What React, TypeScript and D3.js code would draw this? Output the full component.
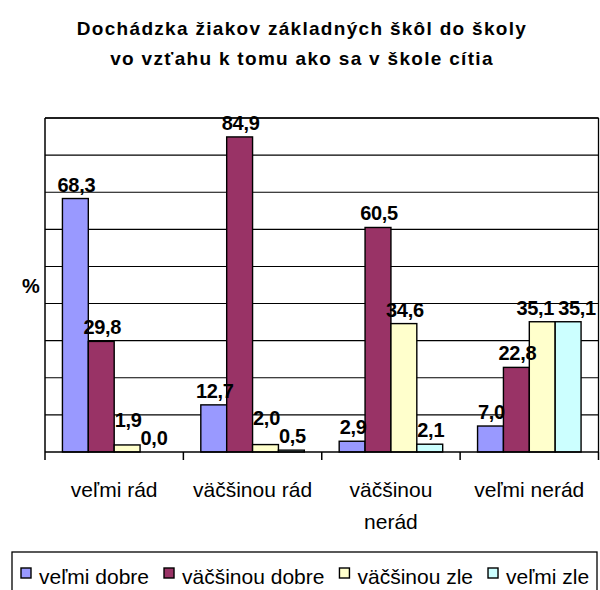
import React, { useEffect, useRef } from "react";
import * as d3 from "d3";

const categories = ["veľmi rád", "väčšinou rád", "väčšinou\nnerád", "veľmi nerád"];
const seriesNames = ["veľmi dobre", "väčšinou dobre", "väčšinou zle", "veľmi zle"];
const velmiDobre = [68.3, 12.7, 2.9, 7.0];
const vacsinouDobre = [29.8, 84.9, 60.5, 22.8];
const vacsinouZle = [1.9, 2.0, 34.6, 35.1];
const velmiZle = [0.0, 0.5, 2.1, 35.1];
const yTicks = [0, 10, 20, 30, 40, 50, 60, 70, 80, 90];
const colors = ["#9999FF", "#993366", "#FFFFCC", "#CCFFFF"];
const titleLines = [
  "Dochádzka žiakov základných škôl do školy",
  "vo vzťahu k tomu ako sa v škole cítia",
];

export default function App() {
  const ref = useRef<SVGSVGElement | null>(null);

  useEffect(() => {
    const width = 600;
    const height = 590;
    const font = "'Liberation Sans', Arial, sans-serif";
    const margin = { top: 118, left: 45, right: 1.5, bottom: 138 };
    const iwidth = width - margin.left - margin.right;
    const iheight = height - margin.top - margin.bottom;
    const series = [velmiDobre, vacsinouDobre, vacsinouZle, velmiZle];

    const svg = d3.select(ref.current);
    svg.selectAll("*").remove();
    svg.append("rect").attr("width", width).attr("height", height).attr("fill", "#fff");

    // title
    svg.append("g")
      .selectAll("text")
      .data(titleLines)
      .enter().append("text")
      .attr("x", 302)
      .attr("y", (d, i) => 35 + i * 30)
      .attr("text-anchor", "middle")
      .style("font-family", font)
      .style("font-size", "19px")
      .style("font-weight", "bold")
      .style("letter-spacing", "1.3px")
      .text(d => d);

    const g = svg.append("g").attr("transform", `translate(${margin.left},${margin.top})`);

    const y = d3.scaleLinear().domain([0, 90]).range([iheight, 0]);
    const x = d3.scaleBand().domain(categories).range([0, iwidth]).padding(0);
    const pad = x.bandwidth() * 0.126;
    const xs = d3.scaleBand<number>()
      .domain(d3.range(series.length))
      .range([pad, x.bandwidth() - pad])
      .padding(0);

    // gridlines
    g.append("g")
      .selectAll("line")
      .data(yTicks.slice(1))
      .enter().append("line")
      .attr("x1", 0).attr("x2", iwidth)
      .attr("y1", d => y(d)).attr("y2", d => y(d))
      .attr("stroke", "#000")
      .attr("stroke-width", 1.1);

    // right border
    g.append("line")
      .attr("x1", iwidth).attr("x2", iwidth)
      .attr("y1", 0).attr("y2", iheight)
      .attr("stroke", "#000").attr("stroke-width", 1.3);

    // bars
    const groups = g.selectAll("g.cat")
      .data(categories)
      .enter().append("g")
      .attr("class", "cat")
      .attr("transform", d => `translate(${x(d)},0)`);

    groups.each(function (cat, ci) {
      const grp = d3.select(this);
      series.forEach((s, si) => {
        const v = s[ci];
        grp.append("rect")
          .attr("x", xs(si) as number)
          .attr("y", y(v))
          .attr("width", xs.bandwidth())
          .attr("height", iheight - y(v))
          .attr("fill", colors[si])
          .attr("stroke", "#000")
          .attr("stroke-width", 1.4);
      });
      const labels = series.map((s, si) => {
        const v = s[ci];
        const lx = (xs(si) as number) + xs.bandwidth() / 2 + 1;
        const ly = y(v) - 7;
        const t = grp.append("text")
          .attr("x", lx)
          .attr("y", ly)
          .attr("text-anchor", "middle")
          .style("font-family", font)
          .style("font-size", "20px")
          .style("font-weight", "bold")
          .style("letter-spacing", "-0.3px")
          .text(d3.format(".1f")(v).replace(".", ","));
        const w = (t.node() as SVGTextElement).getComputedTextLength();
        return { t, x: lx, y: ly, w };
      });
      // keep neighbouring labels from overlapping
      for (let i = 0; i < labels.length - 1; i++) {
        const a = labels[i];
        const b = labels[i + 1];
        const overlapX = a.x + a.w / 2 + 4 - (b.x - b.w / 2);
        const dy = Math.abs(a.y - b.y);
        if (overlapX > 0 && dy < 15) {
          if (dy < 3) {
            a.x -= overlapX / 2;
            b.x += overlapX / 2;
          } else if (a.y < b.y) {
            a.y = b.y - 18;
          } else {
            b.y = a.y - 18;
          }
        }
      }
      labels.forEach(l => l.t.attr("x", l.x).attr("y", l.y));
    });

    // axes
    g.append("line")
      .attr("x1", 0).attr("x2", 0)
      .attr("y1", 0).attr("y2", iheight)
      .attr("stroke", "#000").attr("stroke-width", 1.5);
    g.append("line")
      .attr("x1", 0).attr("x2", iwidth)
      .attr("y1", 0).attr("y2", 0)
      .attr("stroke", "#000").attr("stroke-width", 1.3);
    g.append("line")
      .attr("x1", 0).attr("x2", iwidth)
      .attr("y1", iheight).attr("y2", iheight)
      .attr("stroke", "#000").attr("stroke-width", 1.5);

    const boundaries = categories.map(c => x(c) as number).concat([iwidth]);
    g.append("g")
      .selectAll("line")
      .data(boundaries)
      .enter().append("line")
      .attr("x1", d => d).attr("x2", d => d)
      .attr("y1", iheight).attr("y2", iheight + 8)
      .attr("stroke", "#000").attr("stroke-width", 1.5);

    // category labels
    const catLabels = g.append("g")
      .selectAll("text")
      .data(categories)
      .enter().append("text")
      .attr("x", d => (x(d) as number) + x.bandwidth() / 2)
      .attr("y", iheight + 45)
      .attr("text-anchor", "middle")
      .style("font-family", font)
      .style("font-size", "21px");
    catLabels.each(function (d) {
      const t = d3.select(this);
      d.split("\n").forEach((line, i) => {
        t.append("tspan")
          .attr("x", (x(d) as number) + x.bandwidth() / 2)
          .attr("dy", i === 0 ? 0 : 32)
          .text(line);
      });
    });

    // y title
    svg.append("text")
      .attr("x", 31)
      .attr("y", 293)
      .attr("text-anchor", "middle")
      .style("font-family", font)
      .style("font-size", "20px")
      .style("font-weight", "bold")
      .text("%");

    // legend
    const legend = svg.append("g");
    legend.append("rect")
      .attr("x", 12).attr("y", 552)
      .attr("width", 585).attr("height", 60)
      .attr("fill", "#fff")
      .attr("stroke", "#000")
      .attr("stroke-width", 1.3);
    let lx = 21;
    seriesNames.forEach((name, i) => {
      legend.append("rect")
        .attr("x", lx).attr("y", 568)
        .attr("width", 10).attr("height", 10)
        .attr("fill", colors[i])
        .attr("stroke", "#000")
        .attr("stroke-width", 1.4);
      const t = legend.append("text")
        .attr("x", lx + 18)
        .attr("y", 584)
        .style("font-family", font)
        .style("font-size", "21px")
        .text(name);
      const w = (t.node() as SVGTextElement).getComputedTextLength();
      lx = lx + 18 + w + 15;
    });
  }, []);

  return (
    <svg
      ref={ref}
      width={600}
      height={590}
      style={{ position: "absolute", left: 0, top: 0 }}
    />
  );
}
